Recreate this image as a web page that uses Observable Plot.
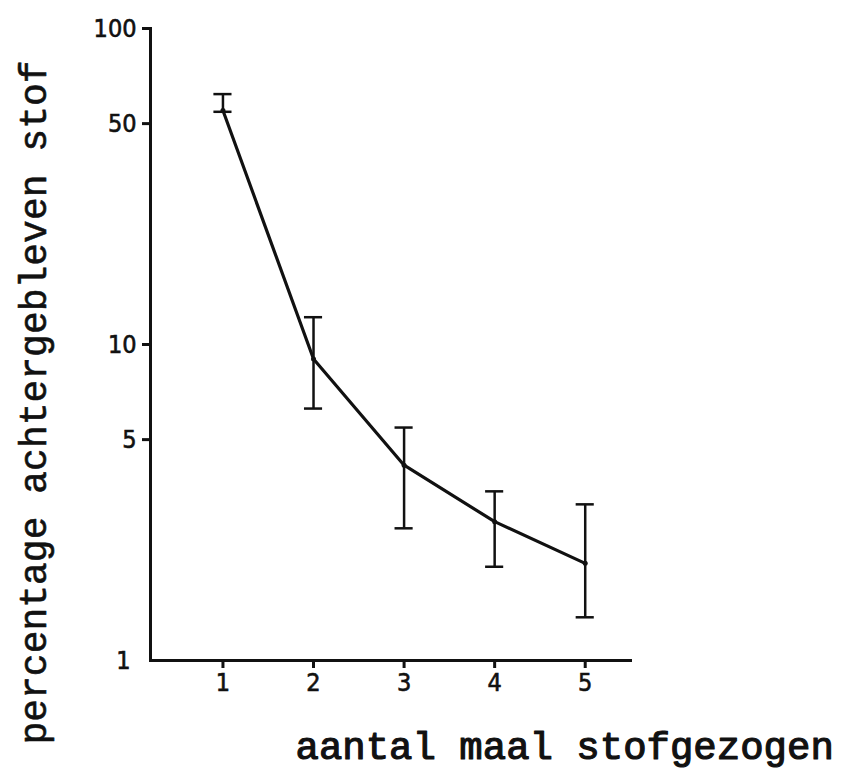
<!DOCTYPE html>
<html><head><meta charset="utf-8">
<script src="https://cdn.jsdelivr.net/npm/d3@7"></script>
<script src="https://cdn.jsdelivr.net/npm/@observablehq/plot@0.6"></script>
<style>
body{margin:0;background:#fff}
#chart svg g[aria-label$="tick label"] text{font-size:25px;font-family:'Liberation Sans Narrow','DejaVu Sans Condensed',sans-serif;stroke:#111;stroke-width:0.6px}
</style>
</head><body><div id="chart"></div>
<script>
const times = [1, 2, 3, 4, 5];
const mean = [55, 9.0, 4.15, 2.75, 2.03];
const low = [54.5, 6.27, 2.62, 1.98, 1.37];
const high = [62, 12.2, 5.46, 3.43, 3.12];
const yTicks = [5, 10, 50, 100];
const yCorner = [1];
const xTicks = [1, 2, 3, 4, 5];
const xLabel = "aantal maal stofgezogen";
const yLabel = "percentage achtergebleven stof";

const data = times.map((t, i) => ({t, m: mean[i], lo: low[i], hi: high[i]}));
const capHalf = 0.1;
const tickFont = "'Liberation Sans Narrow', 'DejaVu Sans Condensed', sans-serif";
const labelFont = "'Liberation Mono', 'DejaVu Sans Mono', monospace";

const chart = Plot.plot({
  width: 848,
  height: 780,
  marginLeft: 150,
  marginRight: 218,
  marginTop: 28,
  marginBottom: 120,
  style: {fontFamily: tickFont, fontSize: "25px", color: "#111", background: "#fff"},
  x: {domain: [0.2, 5.5], label: null},
  y: {type: "log", domain: [1, 100], label: null},
  marks: [
    Plot.frame({anchor: "left", stroke: "#111", strokeWidth: 3}),
    Plot.frame({anchor: "bottom", stroke: "#111", strokeWidth: 3}),
    Plot.axisY({ticks: yTicks, tickSize: 8, tickPadding: 6, tickFormat: d => String(d), strokeWidth: 3, fontSize: 25, label: null}),
    Plot.axisY({ticks: yCorner, tickSize: 0, tickPadding: 20, tickFormat: d => String(d), fontSize: 25, label: null}),
    Plot.axisX({ticks: xTicks, tickSize: 8, tickPadding: 5, tickFormat: d => String(d), strokeWidth: 3, fontSize: 25, label: null}),
    Plot.ruleX(data, {x: "t", y1: "lo", y2: "hi", stroke: "#111", strokeWidth: 2.5}),
    Plot.ruleY(data, {y: "lo", x1: d => d.t - capHalf, x2: d => d.t + capHalf, stroke: "#111", strokeWidth: 2.5}),
    Plot.ruleY(data, {y: "hi", x1: d => d.t - capHalf, x2: d => d.t + capHalf, stroke: "#111", strokeWidth: 2.5}),
    Plot.line(data, {x: "t", y: "m", stroke: "#111", strokeWidth: 3.2}),
    Plot.dot(data, {x: "t", y: "m", r: 2.5, fill: "#111"}),
    Plot.text([xLabel], {frameAnchor: "bottom-left", textAnchor: "start", lineAnchor: "bottom", dx: 145, dy: 98, fontFamily: labelFont, fontWeight: "normal", fontSize: 39, fill: "#111", stroke: "#111", strokeWidth: 1.2}),
    Plot.text([yLabel], {frameAnchor: "left", rotate: -90, textAnchor: "middle", lineAnchor: "middle", dx: -117, dy: 58, fontFamily: labelFont, fontWeight: "normal", fontSize: 38, fill: "#111", stroke: "#111", strokeWidth: 0.6})
  ]
});
document.getElementById("chart").appendChild(chart);
</script>
</body></html>
